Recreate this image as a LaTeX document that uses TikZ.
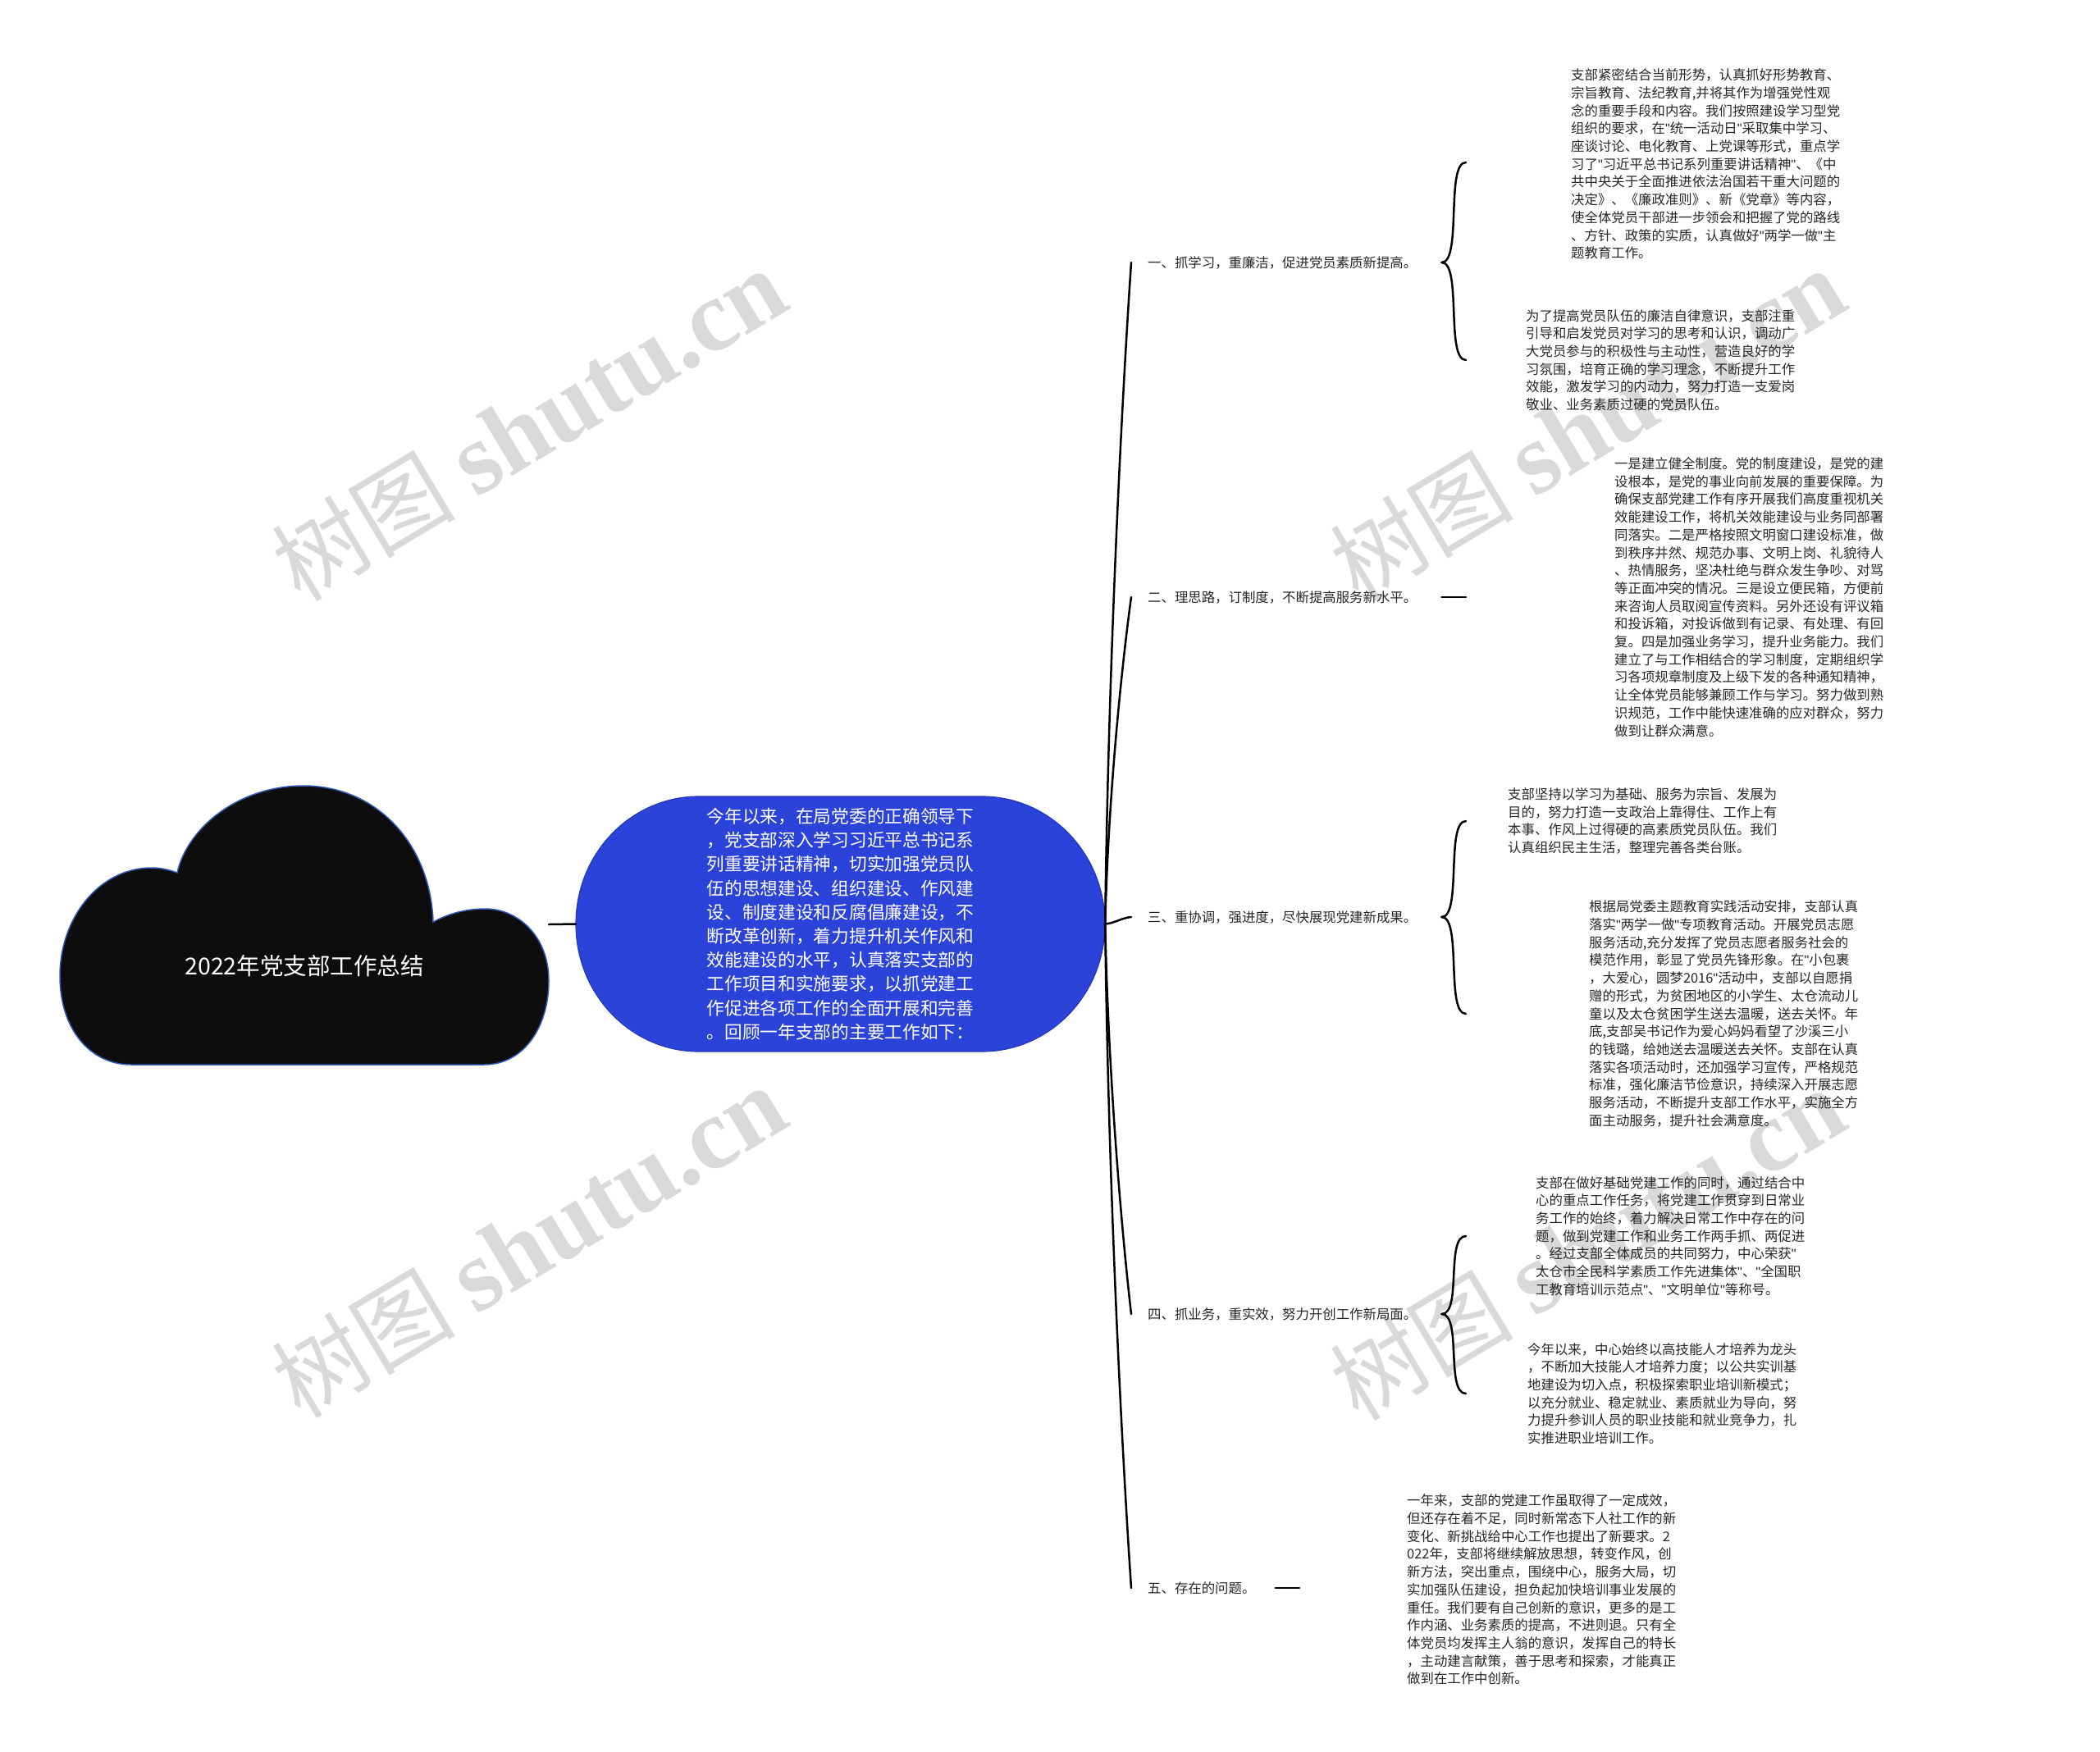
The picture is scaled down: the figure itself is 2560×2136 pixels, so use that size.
\documentclass[tikz,border=0pt]{standalone}
\usepackage{fontspec}
\setmainfont{Noto Sans CJK SC}
\newfontfamily\wmserif{Liberation Serif}
\newfontfamily\latinf{Liberation Sans}
\newcommand\dq{{\latinf\symbol{34}}}
\definecolor{cloudfill}{HTML}{0D0D0D}
\definecolor{cloudedge}{HTML}{2F5BB7}
\definecolor{bluefill}{HTML}{2B43D8}
\definecolor{blueedge}{HTML}{2438BC}
\definecolor{txt}{HTML}{262626}
\definecolor{wm}{HTML}{D9D9D9}
\begin{document}
\begin{tikzpicture}[x=1pt,y=-1pt,
  conn/.style={line width=2.5pt, draw=black, line cap=round},
  lbl/.style={anchor=west, inner sep=0pt, font=\fontsize{16.4}{20}\selectfont, text=txt},
  leaf/.style={anchor=west, inner sep=0pt, align=left, font=\fontsize{16.4}{21.7}\selectfont, text=txt},
  wmark/.style={rotate=31, text=wm, inner sep=0pt, font=\fontsize{112}{112}\selectfont}
]
\useasboundingbox (0,0) rectangle (2560,2136);

% watermarks
\node[wmark] (wm1) at (645,519) {树图 {\wmserif\fontsize{124}{124}\selectfont\bfseries shutu.cn}};
\node[wmark] (wm2) at (1935,519) {树图 {\wmserif\fontsize{124}{124}\selectfont\bfseries shutu.cn}};
\node[wmark] (wm3) at (645,1515) {树图 {\wmserif\fontsize{124}{124}\selectfont\bfseries shutu.cn}};
\node[wmark] (wm4) at (1935,1518) {树图 {\wmserif\fontsize{124}{124}\selectfont\bfseries shutu.cn}};

% cloud
\path[fill=cloudfill, draw=cloudedge, line width=1.5pt]
  (160,1298) -- (590,1298)
  .. controls (640,1298) and (669,1250) .. (669,1196)
  .. controls (669,1140) and (630,1108) .. (592,1108)
  .. controls (565,1108) and (545,1115) .. (528,1124)
  .. controls (525,1030) and (460,958) .. (370,958)
  .. controls (290,958) and (228,1010) .. (216,1064)
  .. controls (205,1060) and (195,1058) .. (185,1058)
  .. controls (120,1058) and (73,1120) .. (73,1190)
  .. controls (73,1255) and (110,1298) .. (160,1298) -- cycle;
\node[text=white, inner sep=0pt, font=\fontsize{28.5}{30}\selectfont] (title) at (371,1178) {2022年党支部工作总结};
\coordinate (cloudE) at (669,1127);

% blue centre shape
\path[fill=bluefill, draw=blueedge, line width=1.2pt]
  (852,971) -- (1197,971)
  arc[start angle=-90, end angle=90, x radius=150, y radius=155.5]
  -- (852,1282)
  arc[start angle=90, end angle=270, x radius=150, y radius=155.5]
  -- cycle;
\node[minimum width=645pt, minimum height=311pt, inner sep=0pt, align=left, text=white,
      font=\fontsize{21.7}{29.2}\selectfont] (center) at (1024.5,1126.5)
 {今年以来，在局党委的正确领导下\\
 ，党支部深入学习习近平总书记系\\
 列重要讲话精神，切实加强党员队\\
 伍的思想建设、组织建设、作风建\\
 设、制度建设和反腐倡廉建设，不\\
 断改革创新，着力提升机关作风和\\
 效能建设的水平，认真落实支部的\\
 工作项目和实施要求，以抓党建工\\
 作促进各项工作的全面开展和完善\\
 。回顾一年支部的主要工作如下：};

\draw[conn] (cloudE) -- (center.west);

% branch labels
\node[lbl] (L1) at (1399,320) {一、抓学习，重廉洁，促进党员素质新提高。};
\node[lbl] (L2) at (1399,728) {二、理思路，订制度，不断提高服务新水平。};
\node[lbl] (L3) at (1399,1118) {三、重协调，强进度，尽快展现党建新成果。};
\node[lbl] (L4) at (1399,1602) {四、抓业务，重实效，努力开创工作新局面。};
\node[lbl] (L5) at (1399,1936) {五、存在的问题。};

\draw[conn] (center.east) .. controls +(4,-323) and +(-11,161) .. ([xshift=-20pt]L1.west);
\draw[conn] (center.east) .. controls +(4,-160) and +(-11,80) .. ([xshift=-20pt]L2.west);
\draw[conn] (center.east) .. controls +(12,-1) and +(-12,1) .. ([xshift=-20pt]L3.west);
\draw[conn] (center.east) .. controls +(4,190) and +(-11,-95) .. ([xshift=-20pt]L4.west);
\draw[conn] (center.east) .. controls +(4,324) and +(-11,-162) .. ([xshift=-20pt]L5.west);

% leaf texts
\node[leaf] (c11) at (1915,200) {支部紧密结合当前形势，认真抓好形势教育、\\
宗旨教育、法纪教育,并将其作为增强党性观\\
念的重要手段和内容。我们按照建设学习型党\\
组织的要求，在\dq 统一活动日\dq 采取集中学习、\\
座谈讨论、电化教育、上党课等形式，重点学\\
习了\dq 习近平总书记系列重要讲话精神\dq 、《中\\
共中央关于全面推进依法治国若干重大问题的\\
决定》、《廉政准则》、新《党章》等内容，\\
使全体党员干部进一步领会和把握了党的路线\\
、方针、政策的实质，认真做好\dq 两学一做\dq 主\\
题教育工作。};
\node[leaf] (c12) at (1860,439) {为了提高党员队伍的廉洁自律意识，支部注重\\
引导和启发党员对学习的思考和认识，调动广\\
大党员参与的积极性与主动性，营造良好的学\\
习氛围，培育正确的学习理念，不断提升工作\\
效能，激发学习的内动力，努力打造一支爱岗\\
敬业、业务素质过硬的党员队伍。};
\node[leaf] (c21) at (1968,728) {一是建立健全制度。党的制度建设，是党的建\\
设根本，是党的事业向前发展的重要保障。为\\
确保支部党建工作有序开展我们高度重视机关\\
效能建设工作，将机关效能建设与业务同部署\\
同落实。二是严格按照文明窗口建设标准，做\\
到秩序井然、规范办事、文明上岗、礼貌待人\\
、热情服务，坚决杜绝与群众发生争吵、对骂\\
等正面冲突的情况。三是设立便民箱，方便前\\
来咨询人员取阅宣传资料。另外还设有评议箱\\
和投诉箱，对投诉做到有记录、有处理、有回\\
复。四是加强业务学习，提升业务能力。我们\\
建立了与工作相结合的学习制度，定期组织学\\
习各项规章制度及上级下发的各种通知精神，\\
让全体党员能够兼顾工作与学习。努力做到熟\\
识规范，工作中能快速准确的应对群众，努力\\
做到让群众满意。};
\node[leaf] (c31) at (1838,1001) {支部坚持以学习为基础、服务为宗旨、发展为\\
目的，努力打造一支政治上靠得住、工作上有\\
本事、作风上过得硬的高素质党员队伍。我们\\
认真组织民主生活，整理完善各类台账。};
\node[leaf] (c32) at (1937,1236) {根据局党委主题教育实践活动安排，支部认真\\
落实\dq 两学一做\dq 专项教育活动。开展党员志愿\\
服务活动,充分发挥了党员志愿者服务社会的\\
模范作用，彰显了党员先锋形象。在\dq 小包裹\\
，大爱心，圆梦2016\dq 活动中，支部以自愿捐\\
赠的形式，为贫困地区的小学生、太仓流动儿\\
童以及太仓贫困学生送去温暖，送去关怀。年\\
底,支部吴书记作为爱心妈妈看望了沙溪三小\\
的钱璐，给她送去温暖送去关怀。支部在认真\\
落实各项活动时，还加强学习宣传，严格规范\\
标准，强化廉洁节俭意识，持续深入开展志愿\\
服务活动，不断提升支部工作水平，实施全方\\
面主动服务，提升社会满意度。};
\node[leaf] (c41) at (1872,1507) {支部在做好基础党建工作的同时，通过结合中\\
心的重点工作任务，将党建工作贯穿到日常业\\
务工作的始终，着力解决日常工作中存在的问\\
题，做到党建工作和业务工作两手抓、两促进\\
。经过支部全体成员的共同努力，中心荣获\dq \\
太仓市全民科学素质工作先进集体\dq 、\dq 全国职\\
工教育培训示范点\dq 、\dq 文明单位\dq 等称号。};
\node[leaf] (c42) at (1862,1699) {今年以来，中心始终以高技能人才培养为龙头\\
，不断加大技能人才培养力度；以公共实训基\\
地建设为切入点，积极探索职业培训新模式；\\
以充分就业、稳定就业、素质就业为导向，努\\
力提升参训人员的职业技能和就业竞争力，扎\\
实推进职业培训工作。};
\node[leaf] (c51) at (1715,1938) {一年来，支部的党建工作虽取得了一定成效，\\
但还存在着不足，同时新常态下人社工作的新\\
变化、新挑战给中心工作也提出了新要求。2\\
022年，支部将继续解放思想，转变作风，创\\
新方法，突出重点，围绕中心，服务大局，切\\
实加强队伍建设，担负起加快培训事业发展的\\
重任。我们要有自己创新的意识，更多的是工\\
作内涵、业务素质的提高，不进则退。只有全\\
体党员均发挥主人翁的意识，发挥自己的特长\\
，主动建言献策，善于思考和探索，才能真正\\
做到在工作中创新。};

% brace / line end points
\coordinate (e11) at (1787,198);
\coordinate (e12) at (1787,439);
\coordinate (e21) at (1787,728);
\coordinate (e31) at (1787,1001);
\coordinate (e32) at (1787,1236);
\coordinate (e41) at (1787,1507);
\coordinate (e42) at (1787,1699);
\coordinate (e51) at (1584,1936);

\draw[conn] ([xshift=30pt]L1.east) .. controls +(25,0) and +(-25,0) .. (e11);
\draw[conn] ([xshift=30pt]L1.east) .. controls +(25,0) and +(-25,0) .. (e12);
\draw[conn] ([xshift=30pt]L2.east) -- (e21);
\draw[conn] ([xshift=30pt]L3.east) .. controls +(25,0) and +(-25,0) .. (e31);
\draw[conn] ([xshift=30pt]L3.east) .. controls +(25,0) and +(-25,0) .. (e32);
\draw[conn] ([xshift=30pt]L4.east) .. controls +(25,0) and +(-25,0) .. (e41);
\draw[conn] ([xshift=30pt]L4.east) .. controls +(25,0) and +(-25,0) .. (e42);
\draw[conn] ([xshift=24pt]L5.east) -- (e51);
\end{tikzpicture}
\end{document}
